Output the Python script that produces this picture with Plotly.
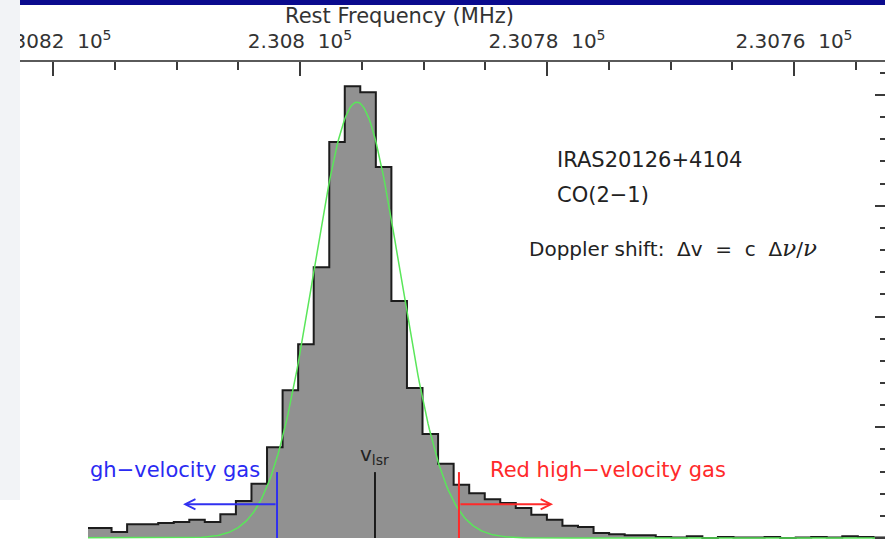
import math
import plotly.graph_objects as go

# CO(2-1) spectrum of IRAS20126+4104: channel centres (MHz) and brightness (K)
freq_mhz = [
    230817.15, 230815.89, 230814.63, 230813.37, 230812.11, 230810.85,
    230809.59, 230808.34, 230807.08, 230805.82, 230804.56, 230803.30,
    230802.04, 230800.78, 230799.52, 230798.26, 230797.00, 230795.75,
    230794.49, 230793.23, 230791.97, 230790.71, 230789.45, 230788.19,
    230786.93, 230785.67, 230784.41, 230783.16, 230781.90, 230780.64,
    230779.38, 230778.12, 230776.86, 230775.60, 230774.34, 230773.08,
    230771.82, 230770.57, 230769.31, 230768.05, 230766.79, 230765.53,
    230764.27, 230763.01, 230761.75, 230760.49, 230759.23, 230757.98,
    230756.72, 230755.46, 230754.20, 230752.94,
]
tmb_k = [
    0.18, 0.18, 0.11, 0.25, 0.25, 0.27,
    0.29, 0.33, 0.29, 0.43, 0.67, 0.98,
    1.64, 2.67, 3.50, 4.89, 7.15, 8.16,
    8.05, 6.70, 4.28, 2.71, 1.88, 1.34,
    0.96, 0.81, 0.70, 0.63, 0.54, 0.42,
    0.33, 0.22, 0.20, 0.09, 0.07, 0.05,
    0.05, 0.02, 0.01, 0.03, 0.00, 0.02,
    0.01, 0.01, 0.02, 0.00, 0.01, 0.02,
    0.01, 0.03, 0.02, 0.01,
]

# Gaussian fit to the line core
fit_amp_k = 7.87
fit_centre_mhz = 230795.39
fit_sigma_mhz = 3.52

# tick marks of the rest-frequency axis
tick_freqs = [230820, 230800, 230780, 230760]
tick_texts = ["2.3082\u00a0\u00a010<sup>5</sup>", "2.308\u00a0\u00a010<sup>5</sup>",
              "2.3078\u00a0\u00a010<sup>5</sup>", "2.3076\u00a0\u00a010<sup>5</sup>"]

# systemic velocity and the limits of the high-velocity wings
f_vlsr = 230793.93
f_blue_wing = 230801.86
f_red_wing = 230787.13
f_blue_arrow_end = 230809.47
f_red_arrow_end = 230779.51

W, H = 885, 540
X_RANGE = [230822.672, 230752.632]
Y_RANGE = [-0.036, 8.596]


def px(x):
    return x / W


def py(y):
    return 1 - y / H


# step outline: bin edges from the channel centres
edges = [(a + b) / 2 for a, b in zip(freq_mhz[:-1], freq_mhz[1:])]
half = (freq_mhz[0] - freq_mhz[1]) / 2
edges = [freq_mhz[0] + half] + edges + [freq_mhz[-1] - half]
step_x = edges
step_y = tmb_k + [tmb_k[-1]]

fit_x = [X_RANGE[0] + (X_RANGE[1] - X_RANGE[0]) * i / 600 for i in range(601)]
fit_y = [fit_amp_k * math.exp(-0.5 * ((f - fit_centre_mhz) / fit_sigma_mhz) ** 2) for f in fit_x]

fig = go.Figure()
fig.add_trace(go.Scatter(
    x=step_x, y=step_y, mode="lines", line=dict(shape="hv", color="#1c1c1c", width=2),
    fill="tozeroy", fillcolor="#919191", hoverinfo="skip", showlegend=False))
fig.add_trace(go.Scatter(
    x=fit_x, y=fit_y, mode="lines", line=dict(color="#5ae65a", width=1.5),
    hoverinfo="skip", showlegend=False))

marker_top = 1.19
for f, col in [(f_vlsr, "#1a1a1a"), (f_blue_wing, "#3030f0"), (f_red_wing, "#ff2a2a")]:
    fig.add_trace(go.Scatter(x=[f, f], y=[0, marker_top], mode="lines",
                             line=dict(color=col, width=2), hoverinfo="skip", showlegend=False))

nu = "<span style=\"font-family:'DejaVu Serif';font-style:italic;font-size:23px\">\u03bd</span>"

arrow_y = 0.61
annotations = [
    dict(x=f_blue_arrow_end, y=arrow_y, ax=f_blue_wing, ay=arrow_y, xref="x", yref="y",
         axref="x", ayref="y", text="", showarrow=True, arrowhead=5, arrowsize=1,
         arrowwidth=2, arrowcolor="#3030f0"),
    dict(x=f_red_arrow_end, y=arrow_y, ax=f_red_wing, ay=arrow_y, xref="x", yref="y",
         axref="x", ayref="y", text="", showarrow=True, arrowhead=5, arrowsize=1,
         arrowwidth=2, arrowcolor="#ff2a2a"),
    dict(x=f_vlsr, y=1.50, xref="x", yref="y", text="v<sub>lsr</sub>", showarrow=False,
         font=dict(family="DejaVu Sans", size=20, color="#222"), xanchor="center", yanchor="middle"),
    dict(x=px(88), y=py(470), xref="paper", yref="paper", text="gh\u2212velocity gas",
         showarrow=False, xanchor="left", yanchor="middle",
         font=dict(family="DejaVu Sans", size=21, color="#2a2af2")),
    dict(x=px(488), y=py(470), xref="paper", yref="paper", text="Red high\u2212velocity gas",
         showarrow=False, xanchor="left", yanchor="middle",
         font=dict(family="DejaVu Sans", size=21, color="#ff2a2a")),
    dict(x=px(555), y=py(160), xref="paper", yref="paper", text="IRAS20126+4104",
         showarrow=False, xanchor="left", yanchor="middle",
         font=dict(family="DejaVu Sans", size=21, color="#222")),
    dict(x=px(555), y=py(195), xref="paper", yref="paper", text="CO(2\u22121)",
         showarrow=False, xanchor="left", yanchor="middle",
         font=dict(family="DejaVu Sans", size=21, color="#222")),
    dict(x=px(527), y=py(248), xref="paper", yref="paper",
         text="Doppler shift:\u00a0 \u0394v\u00a0 =\u00a0 c\u00a0 \u0394" + nu + "/" + nu,
         showarrow=False, xanchor="left", yanchor="middle",
         font=dict(family="DejaVu Sans", size=20, color="#222")),
    dict(x=px(399), y=py(16), xref="paper", yref="paper", text="Rest Frequency (MHz)",
         showarrow=False, xanchor="center", yanchor="middle",
         font=dict(family="DejaVu Sans", size=21, color="#333")),
]

shapes = [
    # slide background strip and title bar
    dict(type="rect", xref="paper", yref="paper", x0=0, x1=px(20), y0=py(500), y1=1,
         fillcolor="#f2f3f6", line=dict(width=0), layer="above"),
    dict(type="rect", xref="paper", yref="paper", x0=px(20), x1=1, y0=py(5), y1=1,
         fillcolor="#0b0b8e", line=dict(width=0), layer="above"),
    # blank lower-left corner
    dict(type="rect", xref="paper", yref="paper", x0=px(20), x1=px(88), y0=0, y1=py(455),
         fillcolor="white", line=dict(width=0), layer="above"),
]

fig.update_layout(
    width=W, height=H, margin=dict(l=0, r=0, t=0, b=0, autoexpand=False),
    paper_bgcolor="white", plot_bgcolor="white",
    showlegend=False, annotations=annotations, shapes=shapes,
    xaxis=dict(domain=[px(20), 1], range=X_RANGE, side="top", automargin=False,
               tickmode="array", tickvals=tick_freqs, ticktext=tick_texts,
               ticks="inside", ticklen=14, tickwidth=2, tickcolor="#3a3a3a",
               showline=True, linecolor="#5a5a5a", linewidth=2,
               showgrid=False, zeroline=False, ticklabelstandoff=4,
               ticklabeloverflow="allow",
               tickfont=dict(family="DejaVu Sans", size=20, color="#333"),
               minor=dict(tick0=230820, dtick=5, ticks="inside", ticklen=8,
                          tickwidth=2, tickcolor="#3a3a3a", showgrid=False)),
    yaxis=dict(domain=[0, py(62)], range=Y_RANGE, side="right", automargin=False,
               tick0=0, dtick=2, ticks="inside", ticklen=10, tickwidth=2,
               tickcolor="#3a3a3a", showticklabels=False, showline=False,
               showgrid=False, zeroline=False,
               minor=dict(dtick=0.4, ticks="inside", ticklen=5, tickwidth=1.5,
                          tickcolor="#3a3a3a", showgrid=False)),
)

fig.write_html("out.html")
